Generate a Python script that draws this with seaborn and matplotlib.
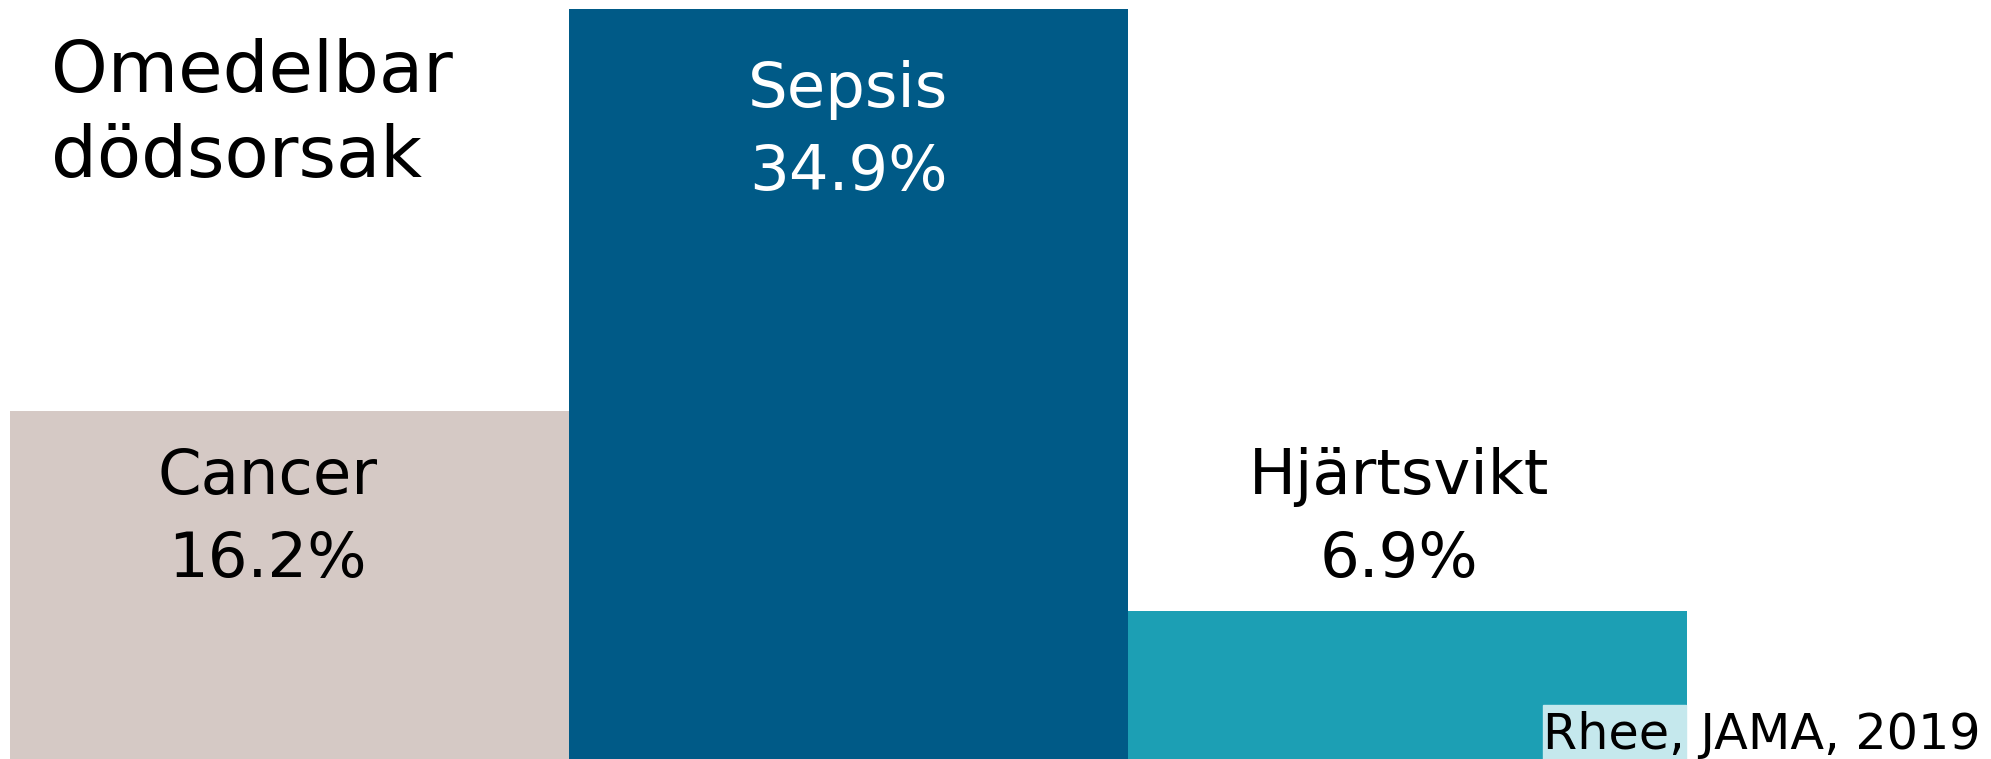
import matplotlib
matplotlib.use("Agg")
import matplotlib.pyplot as plt
from matplotlib.patches import Rectangle
import seaborn as sns
import pandas as pd

causes = ["Cancer", "Sepsis", "Hjärtsvikt"]
shares = [16.2, 34.9, 6.9]
colors = ["#D5C9C5", "#005A87", "#1C9FB4"]
label_colors = ["black", "white", "black"]
title = "Omedelbar\ndödsorsak"
source = "Rhee, JAMA, 2019"

W, H = 1991, 759
sns.set_theme(style="white")
plt.rcParams["font.family"] = ["DejaVu Sans"]

fig = plt.figure(figsize=(W / 100, H / 100), dpi=100)
ax = fig.add_axes([0, 0, 1, 1])

df = pd.DataFrame({"cause": causes, "share": shares})
sns.barplot(data=df, x="cause", y="share", hue="cause", palette=colors,
            width=1.0, legend=False, ax=ax, saturation=1, linewidth=0)

bar_px = 559
left_px = 10
x0 = -0.5 - left_px / bar_px
ax.set_xlim(x0, x0 + W / bar_px)
ax.set_ylim(0, max(shares) * H / 750)
ax.axis("off")

# labels inside / above the bars
label_y = [0.317, 0.827, 0.317]
label_dx = [-0.04, 0.0, -0.015]
for i, (c, v) in enumerate(zip(causes, shares)):
    ax.text(i + label_dx[i], label_y[i], f"{c}\n{v}%",
            transform=ax.get_xaxis_transform(),
            ha="center", va="center", fontsize=45, color=label_colors[i],
            linespacing=1.5)

fig.text(51 / W, 0.848, title, ha="left", va="center", fontsize=52,
         linespacing=1.3, color="black")

# highlight behind the source
fig.patches.append(Rectangle((1543 / W, 0), (1686 - 1543) / W, 54 / H,
                             transform=fig.transFigure, color="#C5E8ED",
                             zorder=3))
fig.text(1981 / W, 10 / H, source, ha="right", va="baseline", fontsize=35.5,
         color="black", zorder=4)

fig.savefig("out.png", dpi=100)
